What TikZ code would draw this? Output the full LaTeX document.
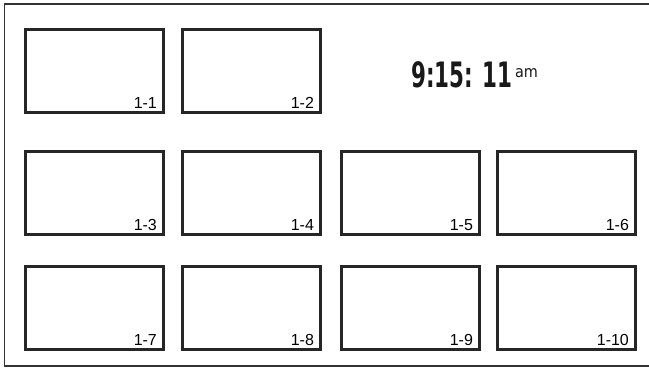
\documentclass[tikz,border=0pt]{standalone}
\usepackage{fontspec}
\setmainfont{Liberation Sans}
\newfontfamily\clockfont{DejaVu Sans Condensed}
\usepackage{tikz}
\usepackage{xcolor}

\tikzset{
  panel/.style={draw=black!85, line width=2.6pt, anchor=north west, minimum width=138pt, minimum height=83pt, inner sep=0pt},
  tag/.style={anchor=south east, font=\fontsize{16}{16}\selectfont, inner sep=0pt, xshift=-7.5pt, yshift=5pt}
}

\begin{document}
\begin{tikzpicture}[x=1pt, y=-1pt]
\useasboundingbox (0,0) rectangle (649,381);
% outer frame (open on the right)
\coordinate (tr) at (649,4);
\coordinate (tl) at (4.5,4);
\coordinate (bl) at (4.5,366);
\coordinate (br) at (649,366);
\draw[black!80, line width=1.2pt] (tr) -- (tl) -- (bl) -- (br);
% first row
\node[panel] (p1) at (24,28) {};
\node[panel] (p2) at (181,28) {};
% second row
\node[panel] (p3) at (24,150) {};
\node[panel] (p4) at (181,150) {};
\node[panel] (p5) at (340,150) {};
\node[panel] (p6) at (496,150) {};
% third row
\node[panel] (p7) at (24,265) {};
\node[panel] (p8) at (181,265) {};
\node[panel] (p9) at (340,265) {};
\node[panel] (p10) at (496,265) {};
% panel numbers
\node[tag] (t1) at (p1.south east) {1-1};
\node[tag] (t2) at (p2.south east) {1-2};
\node[tag] (t3) at (p3.south east) {1-3};
\node[tag] (t4) at (p4.south east) {1-4};
\node[tag] (t5) at (p5.south east) {1-5};
\node[tag] (t6) at (p6.south east) {1-6};
\node[tag] (t7) at (p7.south east) {1-7};
\node[tag] (t8) at (p8.south east) {1-8};
\node[tag] (t9) at (p9.south east) {1-9};
\node[tag] (t10) at (p10.south east) {1-10};
% clock
\node[anchor=base west, inner sep=0pt, text=black!90] (clock) at (411,87)
  {\scalebox{0.68}[1]{\clockfont\bfseries\fontsize{35}{35}\selectfont 9:15: 11}};
\node[anchor=base west, inner sep=0pt, text=black!90, font=\clockfont\fontsize{16}{16}\selectfont] (ampm) at ([xshift=2pt]clock.east |- 0,77) {am};
\end{tikzpicture}
\end{document}
